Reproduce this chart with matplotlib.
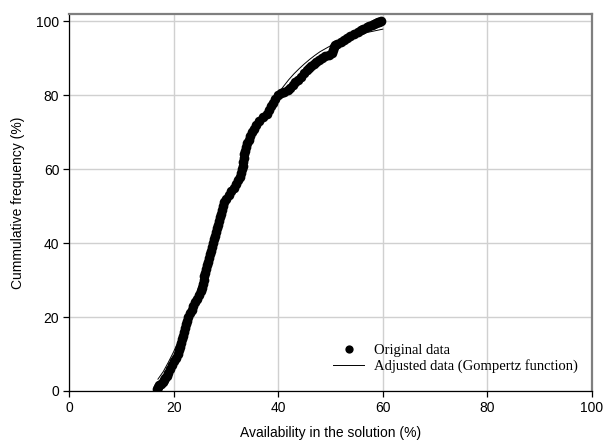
import matplotlib
matplotlib.use("Agg")
import matplotlib.pyplot as plt

# Cumulative frequency data
avail_x = [
    16.8, 17.0, 17.3, 17.6, 17.9, 18.1, 18.4, 18.7, 19.0, 19.4,
    19.7, 20.1, 20.5, 20.8, 21.0, 21.2, 21.4, 21.6, 21.8, 21.9,
    22.2, 22.4, 22.6, 22.8, 23.2, 23.5, 23.8, 24.1, 24.5, 24.8,
    25.2, 25.4, 25.6, 25.8, 25.9, 26.0, 26.2, 26.4, 26.6, 26.8,
    27.0, 27.2, 27.4, 27.6, 27.8, 28.0, 28.2, 28.3, 28.5, 28.6,
    28.8, 29.0, 29.2, 29.4, 29.7, 30.0, 30.5, 31.0, 31.5, 31.9,
    32.3, 32.7, 32.9, 33.1, 33.2, 33.3, 33.4, 33.5, 33.7, 33.9,
    34.1, 34.4, 34.6, 34.9, 35.3, 35.8, 36.3, 37.0, 37.8, 38.3,
    38.7, 39.0, 39.4, 40.0, 40.6, 41.2, 41.8, 42.3, 42.8, 43.2,
    43.7, 44.3, 44.9, 45.5, 45.9, 46.3, 46.8, 47.3, 47.8, 48.3,
    49.0, 49.7, 50.3, 50.5, 50.6, 50.9, 51.3, 52.0, 52.6, 53.1,
    53.8, 54.5, 55.2, 55.8, 56.3, 56.9, 57.3, 57.9, 58.3, 58.7,
    59.0, 59.3, 59.6,
]
cum_freq = [
    0.5, 1.0, 1.5, 2.0, 2.5, 3.0, 3.5, 4.0, 5.0, 6.0,
    7.0, 8.0, 9.0, 10.0, 11.0, 12.0, 13.0, 14.0, 15.0, 16.0,
    17.0, 18.0, 19.0, 20.0, 21.0, 22.0, 23.0, 24.0, 25.0, 26.0,
    27.0, 28.0, 29.0, 30.0, 31.0, 32.0, 33.0, 34.0, 35.0, 36.0,
    37.0, 38.0, 39.0, 40.0, 41.0, 42.0, 43.0, 44.0, 45.0, 46.0,
    47.0, 48.0, 49.0, 50.0, 51.0, 52.0, 53.0, 54.0, 55.0, 56.0,
    57.0, 58.0, 59.0, 60.0, 61.0, 62.0, 63.0, 64.0, 65.0, 66.0,
    67.0, 68.0, 69.0, 70.0, 71.0, 72.0, 73.0, 74.0, 75.0, 76.0,
    77.0, 78.0, 79.0, 80.0, 80.5, 81.0, 81.5, 82.0, 82.8, 83.5,
    84.2, 85.0, 86.0, 86.8, 87.5, 88.0, 88.6, 89.0, 89.5, 90.0,
    90.5, 91.0, 91.5, 92.3, 93.0, 93.5, 94.0, 94.5, 95.0, 95.5,
    96.0, 96.5, 97.0, 97.6, 98.0, 98.5, 98.8, 99.1, 99.3, 99.5,
    99.7, 99.85, 100.0,
]

# Fitted (Gompertz) curve
fit_x = [17, 18, 19, 20, 21, 22, 23, 24, 25, 26, 27, 28, 29, 30, 31,
         32, 33, 34, 35, 36, 37, 38, 39, 40, 41, 42, 43, 44, 45, 46,
         47, 48, 49, 50, 51, 52, 53, 54, 55, 56, 57, 58, 59, 60]
fit_y = [3.2, 5.2, 7.8, 10.6, 13.8, 17.2, 21.0, 24.9, 29.0, 33.2,
         37.5, 41.7, 45.9, 50.0, 54.0, 57.7, 61.3, 64.7, 67.8, 70.8,
         73.5, 76.0, 78.4, 80.5, 82.4, 84.2, 85.8, 87.2, 88.5, 89.7,
         90.8, 91.8, 92.6, 93.4, 94.1, 94.7, 95.3, 95.8, 96.3, 96.7,
         97.0, 97.3, 97.6, 97.9]

plt.rcParams["font.family"] = ["Liberation Sans", "DejaVu Sans"]

fig = plt.figure(figsize=(6.07, 4.47), dpi=100)
ax = fig.add_axes([0.1137, 0.1253, 0.8616, 0.8434])

ax.plot(avail_x, cum_freq, "o", color="black", markersize=7,
        markeredgewidth=0, label="Original data", zorder=3)
ax.plot(fit_x, fit_y, "-", color="black", linewidth=0.7,
        label="Adjusted data (Gompertz function)", zorder=4)

ax.set_xlim(0, 100)
ax.set_ylim(0, 102)
ax.set_xticks([0, 20, 40, 60, 80, 100])
ax.set_yticks([0, 20, 40, 60, 80, 100])
ax.grid(True, color="#d0d0d0", linewidth=1.0)
ax.set_axisbelow(True)

ax.spines["left"].set_color("black")
ax.spines["bottom"].set_color("black")
ax.spines["top"].set_color("#7f7f7f")
ax.spines["right"].set_color("#7f7f7f")
ax.spines["top"].set_linewidth(1.6)
ax.spines["right"].set_linewidth(1.6)
ax.spines["left"].set_linewidth(0.9)
ax.spines["bottom"].set_linewidth(0.9)

ax.tick_params(direction="out", length=4, width=0.9, labelsize=10,
               pad=3, colors="black")

ax.set_xlabel("Availability in the solution (%)", fontsize=10, labelpad=8)
ax.set_ylabel("Cummulative frequency (%)", fontsize=10, labelpad=8)

leg = ax.legend(loc="lower right", bbox_to_anchor=(0.99, 0.025),
                frameon=False, handlelength=2.1, handletextpad=0.7,
                labelspacing=0.12, prop={"family": "Liberation Serif", "size": 10.5},
                borderaxespad=0.2, markerscale=0.85)

fig.savefig("out.png", dpi=100)
